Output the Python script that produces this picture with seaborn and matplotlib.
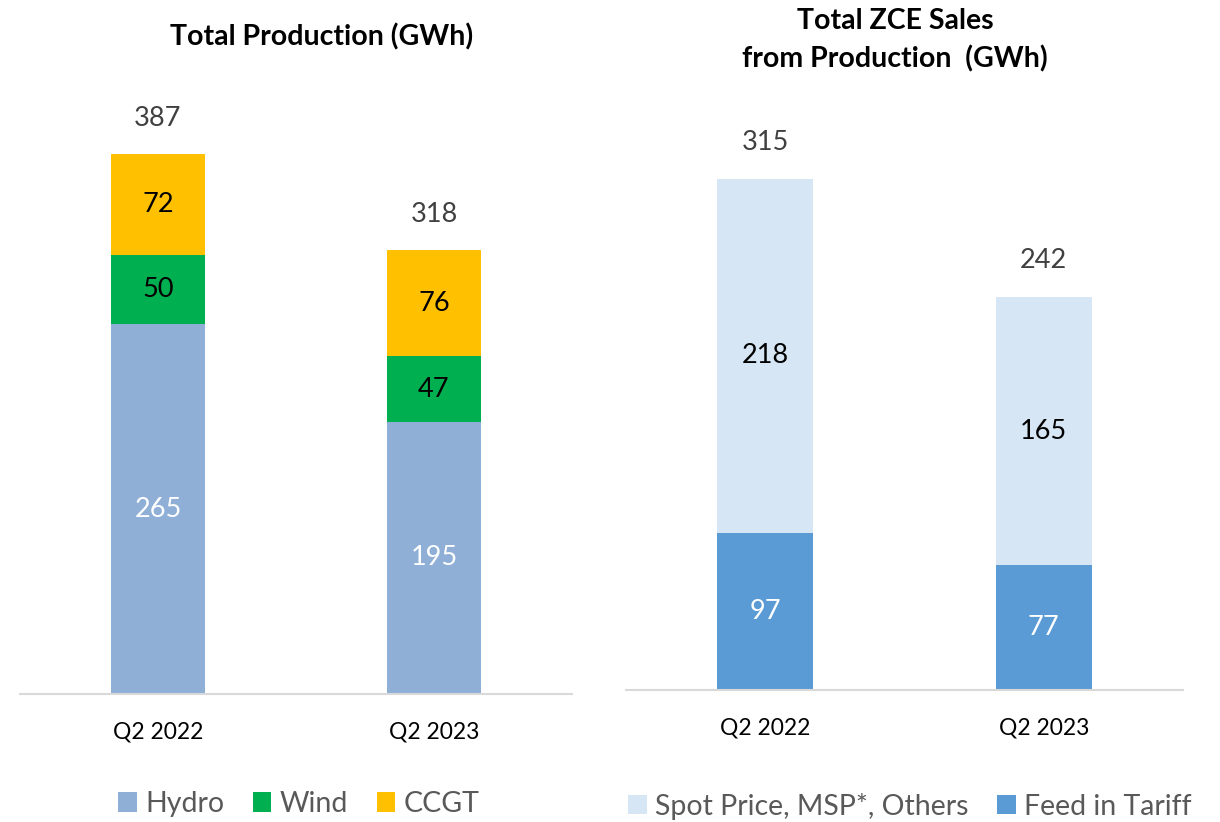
import matplotlib
matplotlib.use("Agg")
import matplotlib.pyplot as plt
import seaborn as sns
import pandas as pd
import numpy as np
from matplotlib.patches import Patch

sns.set_theme(style="white")
plt.rcParams['font.family'] = ['Lato', 'DejaVu Sans']

# ---- data ----
quarters = ["Q2 2022", "Q2 2023"]
hydro = [265, 195]
wind = [50, 47]
ccgt = [72, 76]
prod_total = [387, 318]

feed_in = [97, 77]
spot = [218, 165]
sales_total = [315, 242]

c_hydro = "#8FAFD7"
c_wind = "#00B050"
c_ccgt = "#FFC000"
c_spot = "#D7E6F4"
c_feed = "#5B9BD5"

fig = plt.figure(figsize=(12.2, 8.22), dpi=100)
ax1 = fig.add_axes([20/1220, (822-694)/822, 552/1220, 594/822])
ax2 = fig.add_axes([626/1220, (822-690)/822, 557/1220, 590/822])

def stacked(ax, layers, colors, width):
    # layers bottom -> top; draw cumulative tops first
    cum = np.cumsum(np.array(layers), axis=0)
    for i in range(len(layers) - 1, -1, -1):
        df = pd.DataFrame({"q": quarters, "v": cum[i]})
        sns.barplot(data=df, x="q", y="v", color=colors[i], width=width,
                    saturation=1, ax=ax, linewidth=0, edgecolor="none")
    return cum

cum1 = stacked(ax1, [hydro, wind, ccgt], [c_hydro, c_wind, c_ccgt], 0.344)
cum2 = stacked(ax2, [feed_in, spot], [c_feed, c_spot], 0.345)

ax1.set_ylim(0, 594/1.395)
ax2.set_ylim(0, 590/1.622)
for ax in (ax1, ax2):
    ax.set_xlim(-0.5, 1.5)
    ax.set_xlabel("")
    ax.set_ylabel("")
    ax.set_yticks([])
    for s in ["top", "right", "left"]:
        ax.spines[s].set_visible(False)
    ax.spines["bottom"].set_color("#D9D9D9")
    ax.spines["bottom"].set_linewidth(1.5)
    ax.tick_params(axis="x", length=0, pad=20, labelsize=16.5, labelcolor="black")

# segment labels
def seg_labels(ax, layers, cum, txtcolors):
    for i, layer in enumerate(layers):
        for j, v in enumerate(layer):
            bottom = cum[i][j] - v
            ax.text(j, bottom + v/2, str(v), ha="center", va="center",
                    fontsize=19.5, color=txtcolors[i])

seg_labels(ax1, [hydro, wind, ccgt], cum1, ["white", "black", "black"])
seg_labels(ax2, [feed_in, spot], cum2, ["white", "black"])

for j, t in enumerate(prod_total):
    ax1.annotate(str(t), (j, t), xytext=(0, 36*0.72), textcoords="offset points",
                 ha="center", va="center", fontsize=19.5, color="#404040")
for j, t in enumerate(sales_total):
    ax2.annotate(str(t), (j, t), xytext=(0, 37*0.72), textcoords="offset points",
                 ha="center", va="center", fontsize=19.5, color="#404040")

fig.text(322/1220, 1 - 37/822, "Total Production (GWh)", ha="center", va="center",
         fontsize=20.5, fontweight="bold", color="black")
fig.text(895/1220, 1 - 21/822, "Total ZCE Sales", ha="center",
         va="center", fontsize=20.5, fontweight="bold", color="black")
fig.text(895/1220, 1 - 59/822, "from Production  (GWh)", ha="center",
         va="center", fontsize=20.5, fontweight="bold", color="black")

h1 = [Patch(facecolor=c, edgecolor="none") for c in (c_hydro, c_wind, c_ccgt)]
leg1 = fig.legend(h1, ["Hydro", "Wind", "CCGT"], loc="center", ncol=3,
                  bbox_to_anchor=(299/1220, 1 - 804/822), frameon=False,
                  fontsize=20.5, handlelength=0.65, handleheight=0.65,
                  handletextpad=0.3, columnspacing=1.0, labelcolor="#595959")
h2 = [Patch(facecolor=c, edgecolor="none") for c in (c_spot, c_feed)]
leg2 = fig.legend(h2, ["Spot Price, MSP*, Others", "Feed in Tariff"], loc="center",
                  ncol=2, bbox_to_anchor=(910/1220, 1 - 806/822), frameon=False,
                  fontsize=20.5, handlelength=0.65, handleheight=0.65,
                  handletextpad=0.3, columnspacing=1.0, labelcolor="#595959")

fig.savefig("out.png", dpi=100, facecolor="white")
